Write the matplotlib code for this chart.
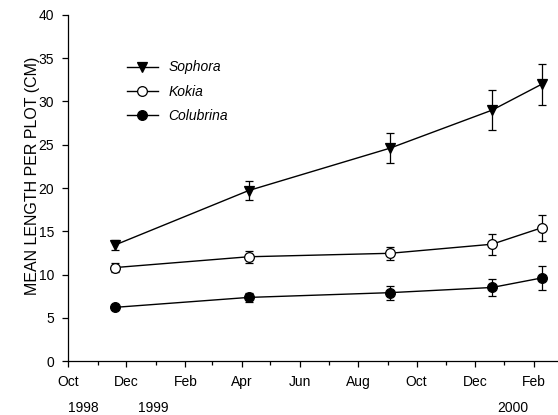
import numpy as np
import pandas as pd
import matplotlib
matplotlib.use("Agg")
import matplotlib.pyplot as plt
import matplotlib.dates as mdates
from matplotlib.lines import Line2D

plt.rcParams["font.family"] = ["Liberation Sans", "DejaVu Sans"]

# sampling dates and mean length per plot (cm) with standard errors
dates = pd.to_datetime(["1998-11-19", "1999-04-08", "1999-09-03",
                        "1999-12-19", "2000-02-09"])
sophora = [13.4, 19.7, 24.6, 29.0, 32.0]
sophora_se = [0.6, 1.1, 1.75, 2.3, 2.35]
kokia = [10.8, 12.05, 12.45, 13.5, 15.4]
kokia_se = [0.5, 0.7, 0.75, 1.2, 1.5]
colubrina = [6.2, 7.35, 7.9, 8.5, 9.6]
colubrina_se = [0.2, 0.5, 0.8, 1.0, 1.4]

years = ["1998", "1999", "2000"]
year_x = [83, 153, 513]  # pixel positions under the month labels

W, H = 558, 415
fig = plt.figure(figsize=(W / 100, H / 100), dpi=100)
ax = fig.add_axes([68 / W, (H - 361) / H, (557 - 68) / W, (361 - 15) / H])

style = dict(color="black", lw=1.0, ms=7, mec="black", mew=0.9)
bars = dict(ecolor="black", elinewidth=0.9, capsize=3, capthick=0.9)
series = [("Sophora", sophora, sophora_se, "v", "black"),
          ("Kokia", kokia, kokia_se, "o", "white"),
          ("Colubrina", colubrina, colubrina_se, "o", "black")]
handles = []
for name, vals, se, mk, fc in series:
    ax.errorbar(dates, vals, yerr=se, marker=mk, mfc=fc, **style, **bars)
    handles.append(Line2D([], [], marker=mk, mfc=fc, label=name, **style))

ax.set_xlim(pd.Timestamp("1998-10-01"), pd.Timestamp("2000-02-25"))
ax.set_ylim(0, 40)
ax.set_yticks(range(0, 41, 5))
ax.xaxis.set_major_locator(mdates.MonthLocator(bymonth=[2, 4, 6, 8, 10, 12]))
ax.xaxis.set_major_formatter(mdates.DateFormatter("%b"))
ax.xaxis.set_minor_locator(mdates.MonthLocator())
ax.tick_params(axis="both", which="major", labelsize=10, length=4,
               width=0.9, direction="out", pad=6)
ax.tick_params(axis="x", which="minor", length=3, width=0.9)

for s in ("top", "right"):
    ax.spines[s].set_visible(False)
for s in ("left", "bottom"):
    ax.spines[s].set_linewidth(0.9)

ax.set_ylabel("MEAN LENGTH PER PLOT (CM)", fontsize=11.5)
ax.yaxis.set_label_coords(-0.058, 0.535)

for yr, px in zip(years, year_x):
    fig.text(px / W, (H - 408) / H, yr, ha="center", va="center", fontsize=10)

ax.legend(handles=handles, loc="upper left", bbox_to_anchor=(0.095, 0.905),
          frameon=False, prop={"style": "italic", "size": 10},
          handlelength=2.2, labelspacing=0.75)

fig.savefig("out.png", dpi=100)
